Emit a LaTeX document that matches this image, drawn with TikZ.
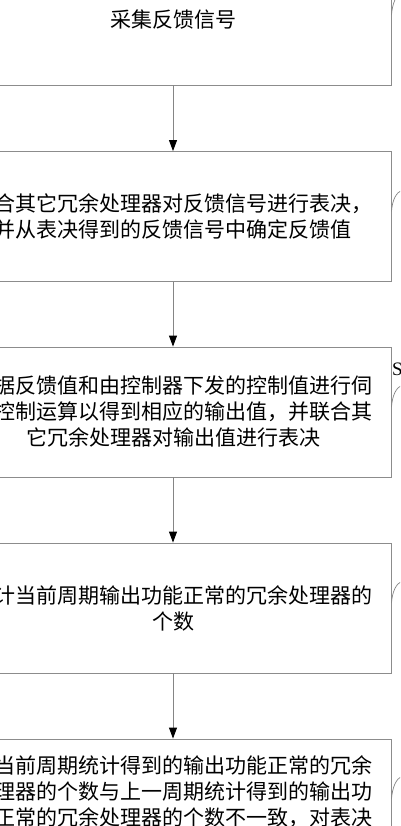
\documentclass[tikz,border=0pt]{standalone}
\usepackage{fontspec}
\newfontfamily\cjk{Noto Sans CJK SC}
\newfontfamily\lab{Liberation Serif}
\usetikzlibrary{arrows.meta}
\definecolor{boxgray}{HTML}{8C8C8C}
\definecolor{linegray}{HTML}{858585}
\begin{document}
\begin{tikzpicture}[x=1pt,y=-1pt,
  stepbox/.style={draw=boxgray, line width=0.9pt, minimum width=436pt, minimum height=130pt,
    align=center, inner sep=0pt, font=\cjk\fontsize{21}{26}\selectfont},
  flow/.style={draw=linegray, line width=0.9pt, -{Triangle[length=11pt,width=8pt,color=black]}},
  leader/.style={draw=linegray, line width=0.7pt}]
\useasboundingbox (0,0) rectangle (400,826);
\fill[white] (0,0) rectangle (400,826);
\clip (0,0) rectangle (400,826);

\node[stepbox] (b1) at (173,20) {采集反馈信号};
\node[stepbox] (b2) at (173,216.5) {联合其它冗余处理器对反馈信号进行表决，\\并从表决得到的反馈信号中确定反馈值};
\node[stepbox] (b3) at (173,412) {根据反馈值和由控制器下发的控制值进行伺\\服控制运算以得到相应的输出值，并联合其\\它冗余处理器对输出值进行表决};
\node[stepbox] (b4) at (173,608) {统计当前周期输出功能正常的冗余处理器的\\个数};
\node[stepbox] (b5) at (173,804) {若当前周期统计得到的输出功能正常的冗余\\处理器的个数与上一周期统计得到的输出功\\能正常的冗余处理器的个数不一致，对表决\\\mbox{}};

\draw[flow] (b1) -- (b2);
\draw[flow] (b2) -- (b3);
\draw[flow] (b3) -- (b4);
\draw[flow] (b4) -- (b5);

\coordinate (e1) at (402,-8);
\coordinate (e2) at (402,190);
\coordinate (e3) at (402,385);
\coordinate (e4) at (402,581);
\coordinate (e5) at (402,776);
\foreach \i in {1,...,5}{
  \draw[leader] ([yshift=5pt]b\i.east) .. controls +(1,-12) and +(-6,3) .. (e\i);
}
\node[font=\lab\fontsize{19}{19}\selectfont, anchor=west, inner sep=0pt] (s3) at (392,369) {S};
\end{tikzpicture}
\end{document}
